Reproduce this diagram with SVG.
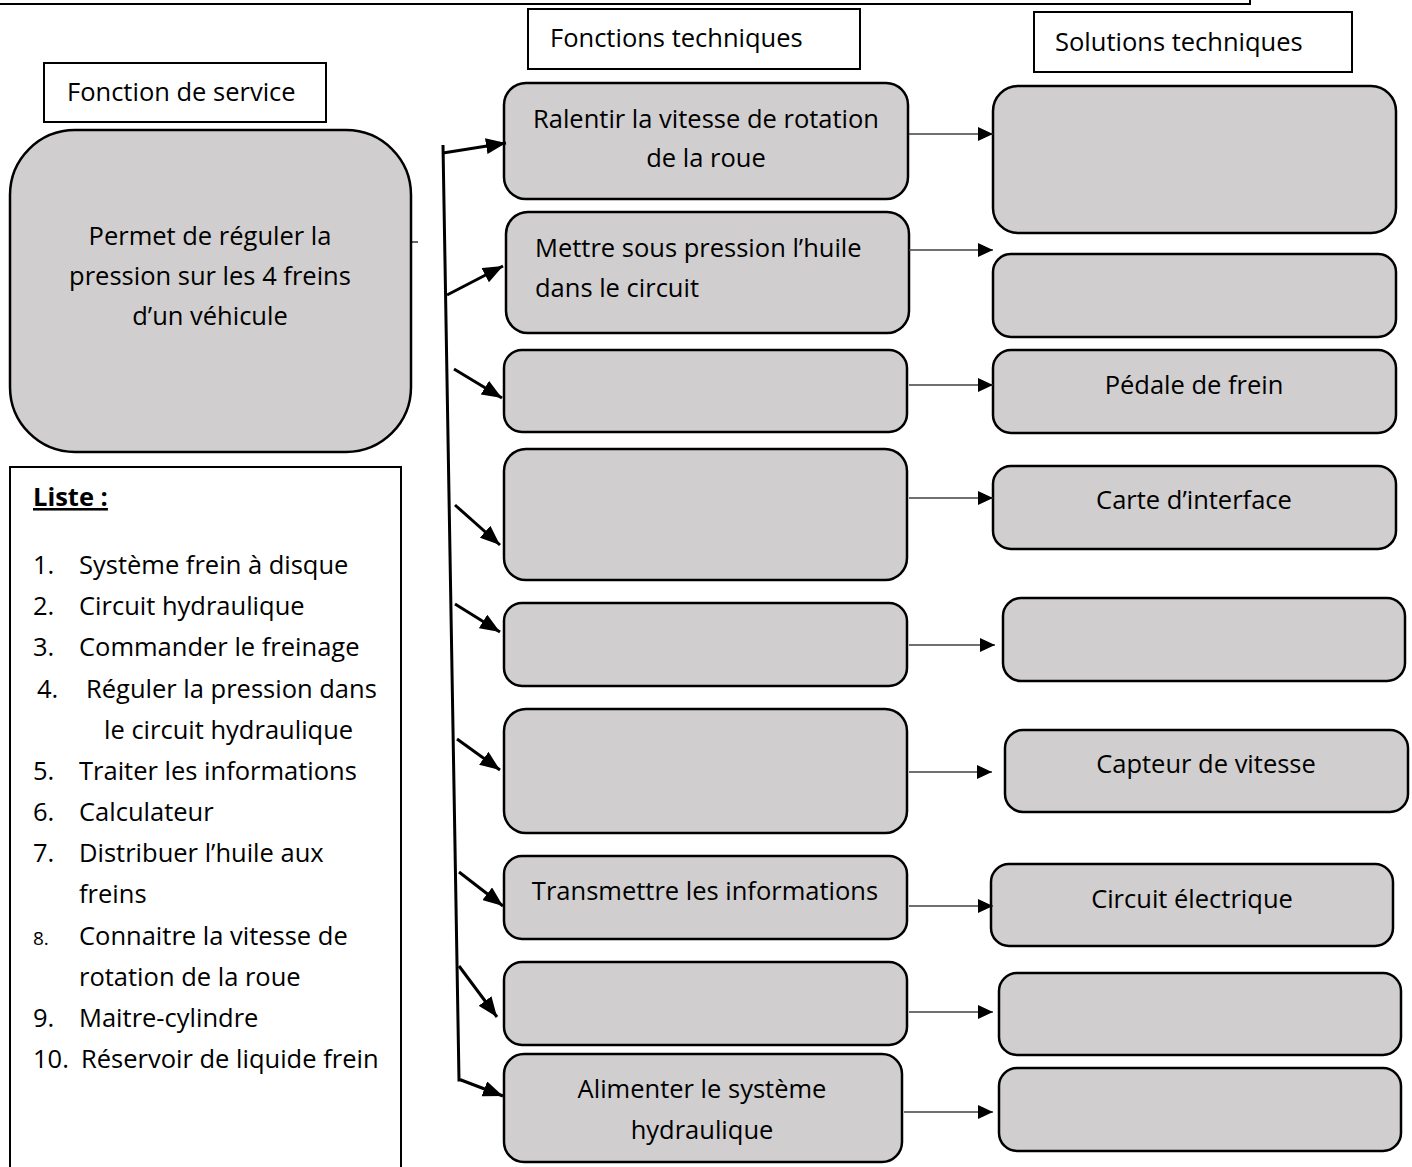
<svg xmlns="http://www.w3.org/2000/svg" width="1412" height="1167" viewBox="0 0 1412 1167">
<style>
text{font-family:"Open Sans","Noto Sans","Liberation Sans",sans-serif;font-size:25.5px;fill:#000}
.box{fill:#d0cece;stroke:#000;stroke-width:2.5}
.hdr{fill:#fff;stroke:#000;stroke-width:2}
.mid{text-anchor:middle}
.thick{stroke:#000;stroke-width:3;fill:none}
.thin{stroke:#404040;stroke-width:1.6;fill:none}
</style>
<defs>
<marker id="ah" viewBox="0 0 20 16" refX="20" refY="8" markerWidth="20" markerHeight="16" markerUnits="userSpaceOnUse" orient="auto"><path d="M0,0 L20,8 L0,16 Z" fill="#000"/></marker>
<marker id="as" viewBox="0 0 15 14" refX="15" refY="7" markerWidth="15" markerHeight="14" markerUnits="userSpaceOnUse" orient="auto"><path d="M0,0 L15,7 L0,14 Z" fill="#000"/></marker>
</defs>
<path d="M0,4 H1250 V0" fill="none" stroke="#000" stroke-width="2"/>

<g id="hdr-fs"><rect class="hdr" x="44" y="63" width="282" height="59"/><text x="67" y="101">Fonction de service</text></g>
<g id="hdr-ft"><rect class="hdr" x="528" y="9" width="332" height="60"/><text x="550" y="47">Fonctions techniques</text></g>
<g id="hdr-st"><rect class="hdr" x="1034" y="12" width="318" height="60"/><text x="1055" y="51">Solutions techniques</text></g>

<g id="fs"><rect class="box" x="10" y="130" width="401" height="322" rx="65"/>
<text class="mid" x="210" y="245">Permet de réguler la</text>
<text class="mid" x="210" y="285">pression sur les 4 freins</text>
<text class="mid" x="210" y="325">d’un véhicule</text></g>

<g id="liste"><rect x="10" y="467" width="391" height="720" fill="#fff" stroke="#000" stroke-width="2"/>
<text x="33" y="506" font-weight="bold" text-decoration="underline">Liste :</text>
<text x="33" y="574">1.</text><text x="79" y="574">Système frein à disque</text>
<text x="33" y="615">2.</text><text x="79" y="615">Circuit hydraulique</text>
<text x="33" y="656">3.</text><text x="79" y="656">Commander le freinage</text>
<text x="37" y="698">4.</text><text x="86" y="698">Réguler la pression dans</text>
<text x="104" y="739">le circuit hydraulique</text>
<text x="33" y="780">5.</text><text x="79" y="780">Traiter les informations</text>
<text x="33" y="821">6.</text><text x="79" y="821">Calculateur</text>
<text x="33" y="862">7.</text><text x="79" y="862">Distribuer l’huile aux</text>
<text x="79" y="903">freins</text>
<text x="33" y="945" style="font-size:19px">8.</text><text x="79" y="945">Connaitre la vitesse de</text>
<text x="79" y="986">rotation de la roue</text>
<text x="33" y="1027">9.</text><text x="79" y="1027">Maitre-cylindre</text>
<text x="33" y="1068">10.</text><text x="81" y="1068">Réservoir de liquide frein</text></g>

<g id="ft1"><rect class="box" x="504" y="83" width="404" height="116" rx="22"/><text class="mid" x="706" y="128">Ralentir la vitesse de rotation</text><text class="mid" x="706" y="167">de la roue</text></g>
<g id="ft2"><rect class="box" x="506" y="212" width="403" height="121" rx="22"/><text x="535" y="257">Mettre sous pression l’huile</text><text x="535" y="297">dans le circuit</text></g>
<g id="ft3"><rect class="box" x="504" y="350" width="403" height="82" rx="18"/></g>
<g id="ft4"><rect class="box" x="504" y="449" width="403" height="131" rx="22"/></g>
<g id="ft5"><rect class="box" x="504" y="603" width="403" height="83" rx="18"/></g>
<g id="ft6"><rect class="box" x="504" y="709" width="403" height="124" rx="22"/></g>
<g id="ft7"><rect class="box" x="504" y="856" width="403" height="83" rx="18"/><text class="mid" x="705" y="900">Transmettre les informations</text></g>
<g id="ft8"><rect class="box" x="504" y="962" width="403" height="83" rx="18"/></g>
<g id="ft9"><rect class="box" x="504" y="1054" width="398" height="108" rx="20"/><text class="mid" x="702" y="1098">Alimenter le système</text><text class="mid" x="702" y="1139">hydraulique</text></g>

<g id="st1"><rect class="box" x="993" y="86" width="403" height="147" rx="25"/></g>
<g id="st2"><rect class="box" x="993" y="254" width="403" height="83" rx="18"/></g>
<g id="st3"><rect class="box" x="993" y="350" width="403" height="83" rx="18"/><text class="mid" x="1194" y="394">Pédale de frein</text></g>
<g id="st4"><rect class="box" x="993" y="466" width="403" height="83" rx="18"/><text class="mid" x="1194" y="509">Carte d’interface</text></g>
<g id="st5"><rect class="box" x="1003" y="598" width="402" height="83" rx="18"/></g>
<g id="st6"><rect class="box" x="1005" y="730" width="403" height="82" rx="18"/><text class="mid" x="1206" y="773">Capteur de vitesse</text></g>
<g id="st7"><rect class="box" x="991" y="864" width="402" height="82" rx="18"/><text class="mid" x="1192" y="908">Circuit électrique</text></g>
<g id="st8"><rect class="box" x="999" y="973" width="402" height="82" rx="18"/></g>
<g id="st9"><rect class="box" x="999" y="1068" width="402" height="83" rx="18"/></g>

<g id="connectors">
<path d="M411,242 H418" stroke="#000" stroke-width="1.2"/>
<path class="thick" d="M443,145 L459,1080 H462"/>
<path class="thick" marker-end="url(#ah)" d="M443,153 L506,143"/>
<path class="thick" marker-end="url(#ah)" d="M447,295 L503,266"/>
<path class="thick" marker-end="url(#ah)" d="M454,369 L502,398"/>
<path class="thick" marker-end="url(#ah)" d="M455,505 L500,545"/>
<path class="thick" marker-end="url(#ah)" d="M455,604 L500,632"/>
<path class="thick" marker-end="url(#ah)" d="M457,739 L500,770"/>
<path class="thick" marker-end="url(#ah)" d="M459,872 L503,906"/>
<path class="thick" marker-end="url(#ah)" d="M459,966 L497,1017"/>
<path class="thick" marker-end="url(#ah)" d="M461,1080 L503,1096"/>
<path class="thin" marker-end="url(#as)" d="M909,134 H993"/>
<path class="thin" marker-end="url(#as)" d="M909,250 H993"/>
<path class="thin" marker-end="url(#as)" d="M909,385 H993"/>
<path class="thin" marker-end="url(#as)" d="M909,498 H993"/>
<path class="thin" marker-end="url(#as)" d="M909,645 H995"/>
<path class="thin" marker-end="url(#as)" d="M909,772 H992"/>
<path class="thin" marker-end="url(#as)" d="M909,906 H993"/>
<path class="thin" marker-end="url(#as)" d="M909,1012 H993"/>
<path class="thin" marker-end="url(#as)" d="M904,1112 H993"/>
</g>
</svg>
